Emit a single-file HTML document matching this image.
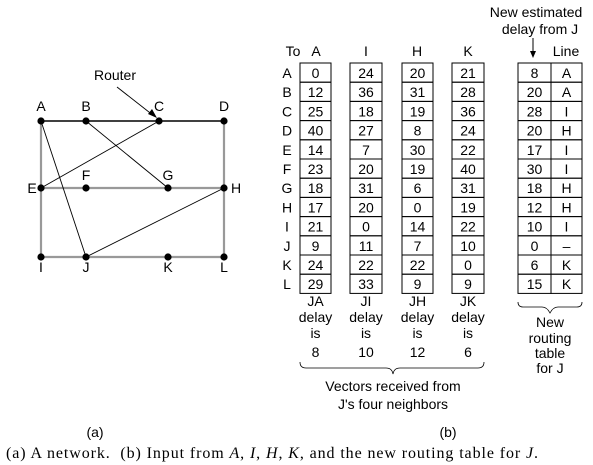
<!DOCTYPE html>
<html><head><meta charset="utf-8"><style>
body{margin:0;background:#fff;}
svg{display:block;font-family:"Liberation Sans",sans-serif;}
</style></head><body>
<svg id="fig" width="593" height="465" viewBox="0 0 593 465">
 <g>
  <g stroke="#999" stroke-width="2.2">
   <line x1="41" y1="121" x2="41" y2="257"/>
   <line x1="224" y1="121" x2="224" y2="257"/>
   <line x1="41" y1="188" x2="224" y2="188"/>
   <line x1="41" y1="257" x2="224" y2="257"/>
  </g>
  <line x1="41" y1="121" x2="224" y2="121" stroke="#000" stroke-width="1.6"/>
  <g stroke="#000" stroke-width="0.9">
   <line x1="41" y1="121" x2="86" y2="257"/>
   <line x1="86" y1="121" x2="168" y2="188"/>
   <line x1="159" y1="121" x2="41" y2="188"/>
   <line x1="224" y1="188" x2="86" y2="257"/>
   <line x1="117" y1="87" x2="154" y2="116"/>
  </g>
  <polygon points="157,118 148,114 152,109" fill="#000"/>
  <text x="115" y="80" font-size="14" text-anchor="middle">Router</text>
  <g id="nodes"></g>
 </g>
 <g id="tables"></g>
 <g font-size="14" text-anchor="middle">
  <text x="536" y="17">New estimated</text>
  <text x="540" y="34">delay from J</text>
  <line x1="533" y1="38" x2="533" y2="52" stroke="#000"/>
  <polygon points="530,51 536,51 533,58" fill="#000"/>
  <text x="293" y="56">To</text>
  <text x="316" y="56">A</text><text x="366" y="56">I</text><text x="417" y="56">H</text><text x="468" y="56">K</text>
  <text x="566" y="56">Line</text>
  <g id="delays"></g>
  <path d="M300,362 q0,6 6,6 h80 q6,0 7,6 q1,-6 7,-6 h78 q6,0 6,-6" fill="none" stroke="#000" stroke-width="0.8"/>
  <text x="393" y="391">Vectors received from</text>
  <text x="393" y="409">J's four neighbors</text>
  <path d="M518,302 q0,5 5,5 h19 q5,0 8,6 q3,-6 8,-6 h19 q5,0 5,-5" fill="none" stroke="#000" stroke-width="0.8"/>
  <text x="550" y="327">New</text><text x="550" y="343">routing</text><text x="550" y="358">table</text><text x="550" y="373">for J</text>
  <text x="95" y="437">(a)</text>
  <text x="448" y="437">(b)</text>
 </g>
 <text x="6" y="458" font-family="Liberation Serif,serif" font-size="16" textLength="532" lengthAdjust="spacing" xml:space="preserve">(a) A network.  (b) Input from <tspan font-style="italic">A</tspan>, <tspan font-style="italic">I</tspan>, <tspan font-style="italic">H</tspan>, <tspan font-style="italic">K</tspan>, and the new routing table for <tspan font-style="italic">J</tspan>.</text>
</svg>
<script>
const dests=["A","B","C","D","E","F","G","H","I","J","K","L"];
const fromA=[0,12,25,40,14,23,18,17,21,9,24,29];
const fromI=[24,36,18,27,7,20,31,20,0,11,22,33];
const fromH=[20,31,19,8,30,19,6,0,14,7,22,9];
const fromK=[21,28,36,24,22,40,31,19,22,10,0,9];
const newDelay=[8,20,28,20,17,30,18,12,10,0,6,15];
const newLine=["A","A","I","H","I","I","H","H","I","\u2013","K","K"];
const neighbors=["JA","JI","JH","JK"];
const neighborDelay=[8,10,12,6];
const NS="http://www.w3.org/2000/svg";
function mk(tag,attrs,parent,txt){const e=document.createElementNS(NS,tag);for(const k in attrs)e.setAttribute(k,attrs[k]);if(txt!==undefined)e.textContent=txt;parent.appendChild(e);return e;}
const nodes=[["A",41,121,41,111],["B",86,121,86,111],["C",159,121,159,111],["D",224,121,224,111],
["E",41,188,32,193],["F",86,188,86,180],["G",168,188,168,180],["H",224,188,236,193],
["I",41,257,41,272],["J",86,257,86,272],["K",168,257,168,272],["L",224,257,224,272]];
const ng=document.getElementById('nodes');
nodes.forEach(n=>{
 const c=mk('circle',{cx:n[1],cy:n[2],r:3.6,fill:'#000'},ng);
 
 
 const t=mk('text',{x:n[3],y:n[4],'font-size':14,'text-anchor':'middle'},ng,n[0]);
 
 
});
const tg=document.getElementById('tables');
const top0=63,rh=19.2;
const cols=[[300,31,fromA],[350,32,fromI],[402,31,fromH],[452,32,fromK],[518,33,newDelay],[551,31,newLine]];
dests.forEach((d,i)=>{
 const y=top0+i*rh;
 const t=mk('text',{x:287,y:y+15,'font-size':14,'text-anchor':'middle'},tg,d);
 
 
 cols.forEach((c,j)=>{
  const r=mk('rect',{x:c[0],y:y,width:c[1],height:rh,fill:'none',stroke:'#000','stroke-width':1},tg);
  
  
  const v=mk('text',{x:c[0]+c[1]/2,y:y+15,'font-size':14,'text-anchor':'middle'},tg,String(c[2][i]));
  
  
 });
});
const dg=document.getElementById('delays');
neighbors.forEach((n,i)=>{
 const x=cols[i][0]+cols[i][1]/2;
 [n,'delay','is',String(neighborDelay[i])].forEach((s,k)=>{
  const t=mk('text',{x:x,y:[306,322,338,357][k]},dg,s);
  
  
 });
});
</script>
</body></html>
